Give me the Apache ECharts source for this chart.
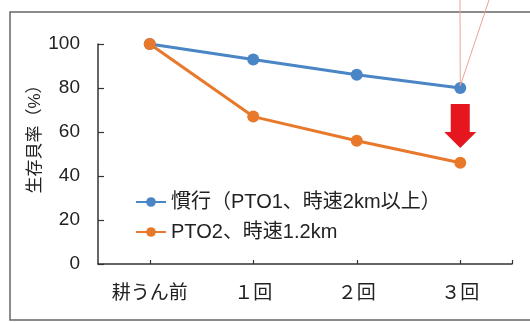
<!DOCTYPE html>
<html>
<head>
<meta charset="utf-8">
<script src="https://cdn.jsdelivr.net/npm/echarts@6/dist/echarts.min.js"></script>
<style>
  html, body { margin: 0; padding: 0; background: #fff; }
  #chart { width: 530px; height: 322px; }
</style>
</head>
<body>
<div id="chart"></div>
<script>
// Survival rate of shellfish after each tillage pass
const categories = ['耕うん前', '１回', '２回', '３回'];
const seriesNames = ['慣行（PTO1、時速2km以上）', 'PTO2、時速1.2km'];
const conventional = [100, 93, 86, 80];
const slowTill = [100, 67, 56, 46];
const yTicks = [0, 20, 40, 60, 80, 100];

const FONT = "'Liberation Sans', 'Noto Sans CJK JP', sans-serif";
const BLUE = '#4a86c5';
const ORANGE = '#e8792b';

const toPoints = arr => arr.map((v, i) => [i, v]);
const catIdx = categories.map((c, i) => i);

const chart = echarts.init(document.getElementById('chart'), null, { renderer: 'canvas' });

chart.setOption({
  backgroundColor: '#fff',
  animation: false,
  grid: { left: 98, right: 18, top: 44, bottom: 58, containLabel: false },
  graphic: [
    {
      type: 'rect',
      shape: { x: 10, y: 12, width: 560, height: 308 },
      style: { fill: 'none', stroke: '#666', lineWidth: 1.5 },
      z: 0,
      silent: true
    },
    {
      type: 'text',
      x: 35,
      y: 135,
      rotation: Math.PI / 2,
      style: {
        text: '生存貝率（%）',
        font: '17px ' + FONT,
        fill: '#222',
        align: 'center',
        verticalAlign: 'middle'
      },
      silent: true
    }
  ],
  legend: {
    orient: 'vertical',
    left: 130,
    top: 187,
    itemWidth: 30,
    itemHeight: 12,
    itemGap: 10,
    textStyle: { fontFamily: FONT, fontSize: 20, color: '#222' },
    data: seriesNames
  },
  xAxis: {
    type: 'value',
    min: -0.5,
    max: categories.length - 0.5,
    splitLine: { show: false },
    axisLine: { show: true, onZero: false, lineStyle: { color: '#333', width: 1.5 } },
    axisTick: {
      show: true,
      inside: true,
      length: 4,
      customValues: catIdx.concat([categories.length - 0.5]),
      lineStyle: { color: '#333', width: 1.2 }
    },
    axisLabel: {
      margin: 20,
      fontFamily: FONT,
      fontSize: 19,
      color: '#222',
      customValues: catIdx,
      formatter: v => categories[Math.round(v)] ?? ''
    }
  },
  yAxis: {
    type: 'value',
    min: yTicks[0],
    max: yTicks[yTicks.length - 1],
    interval: yTicks[1] - yTicks[0],
    splitLine: { show: false },
    axisLine: { show: true, onZero: false, lineStyle: { color: '#333', width: 1.5 } },
    axisTick: { show: true, inside: true, length: 6, lineStyle: { color: '#333', width: 1.2 } },
    axisLabel: { margin: 18, fontFamily: FONT, fontSize: 19, color: '#222' }
  },
  series: [
    {
      name: seriesNames[0],
      type: 'line',
      data: toPoints(conventional),
      symbol: 'circle',
      symbolSize: 12,
      clip: false,
      itemStyle: { color: BLUE },
      lineStyle: { color: BLUE, width: 3 },
      markLine: {
        silent: true,
        symbol: 'none',
        label: { show: false },
        lineStyle: { color: '#eaa593', width: 1, type: 'solid' },
        data: [
          [{ coord: [3, 81] }, { x: 460, y: 0 }],
          [{ coord: [3, 81] }, { x: 489, y: 0 }]
        ]
      }
    },
    {
      name: seriesNames[1],
      type: 'line',
      data: toPoints(slowTill),
      symbol: 'circle',
      symbolSize: 12,
      clip: false,
      itemStyle: { color: ORANGE },
      lineStyle: { color: ORANGE, width: 3 },
      markPoint: {
        silent: true,
        symbol: 'path://M6.5,0 L25.5,0 L25.5,28 L32,28 L16,44 L0,28 L6.5,28 Z',
        symbolSize: [32, 44],
        itemStyle: { color: '#e5161d' },
        label: { show: false },
        data: [{ coord: [3, 62.7] }]
      }
    }
  ]
});
</script>
</body>
</html>
